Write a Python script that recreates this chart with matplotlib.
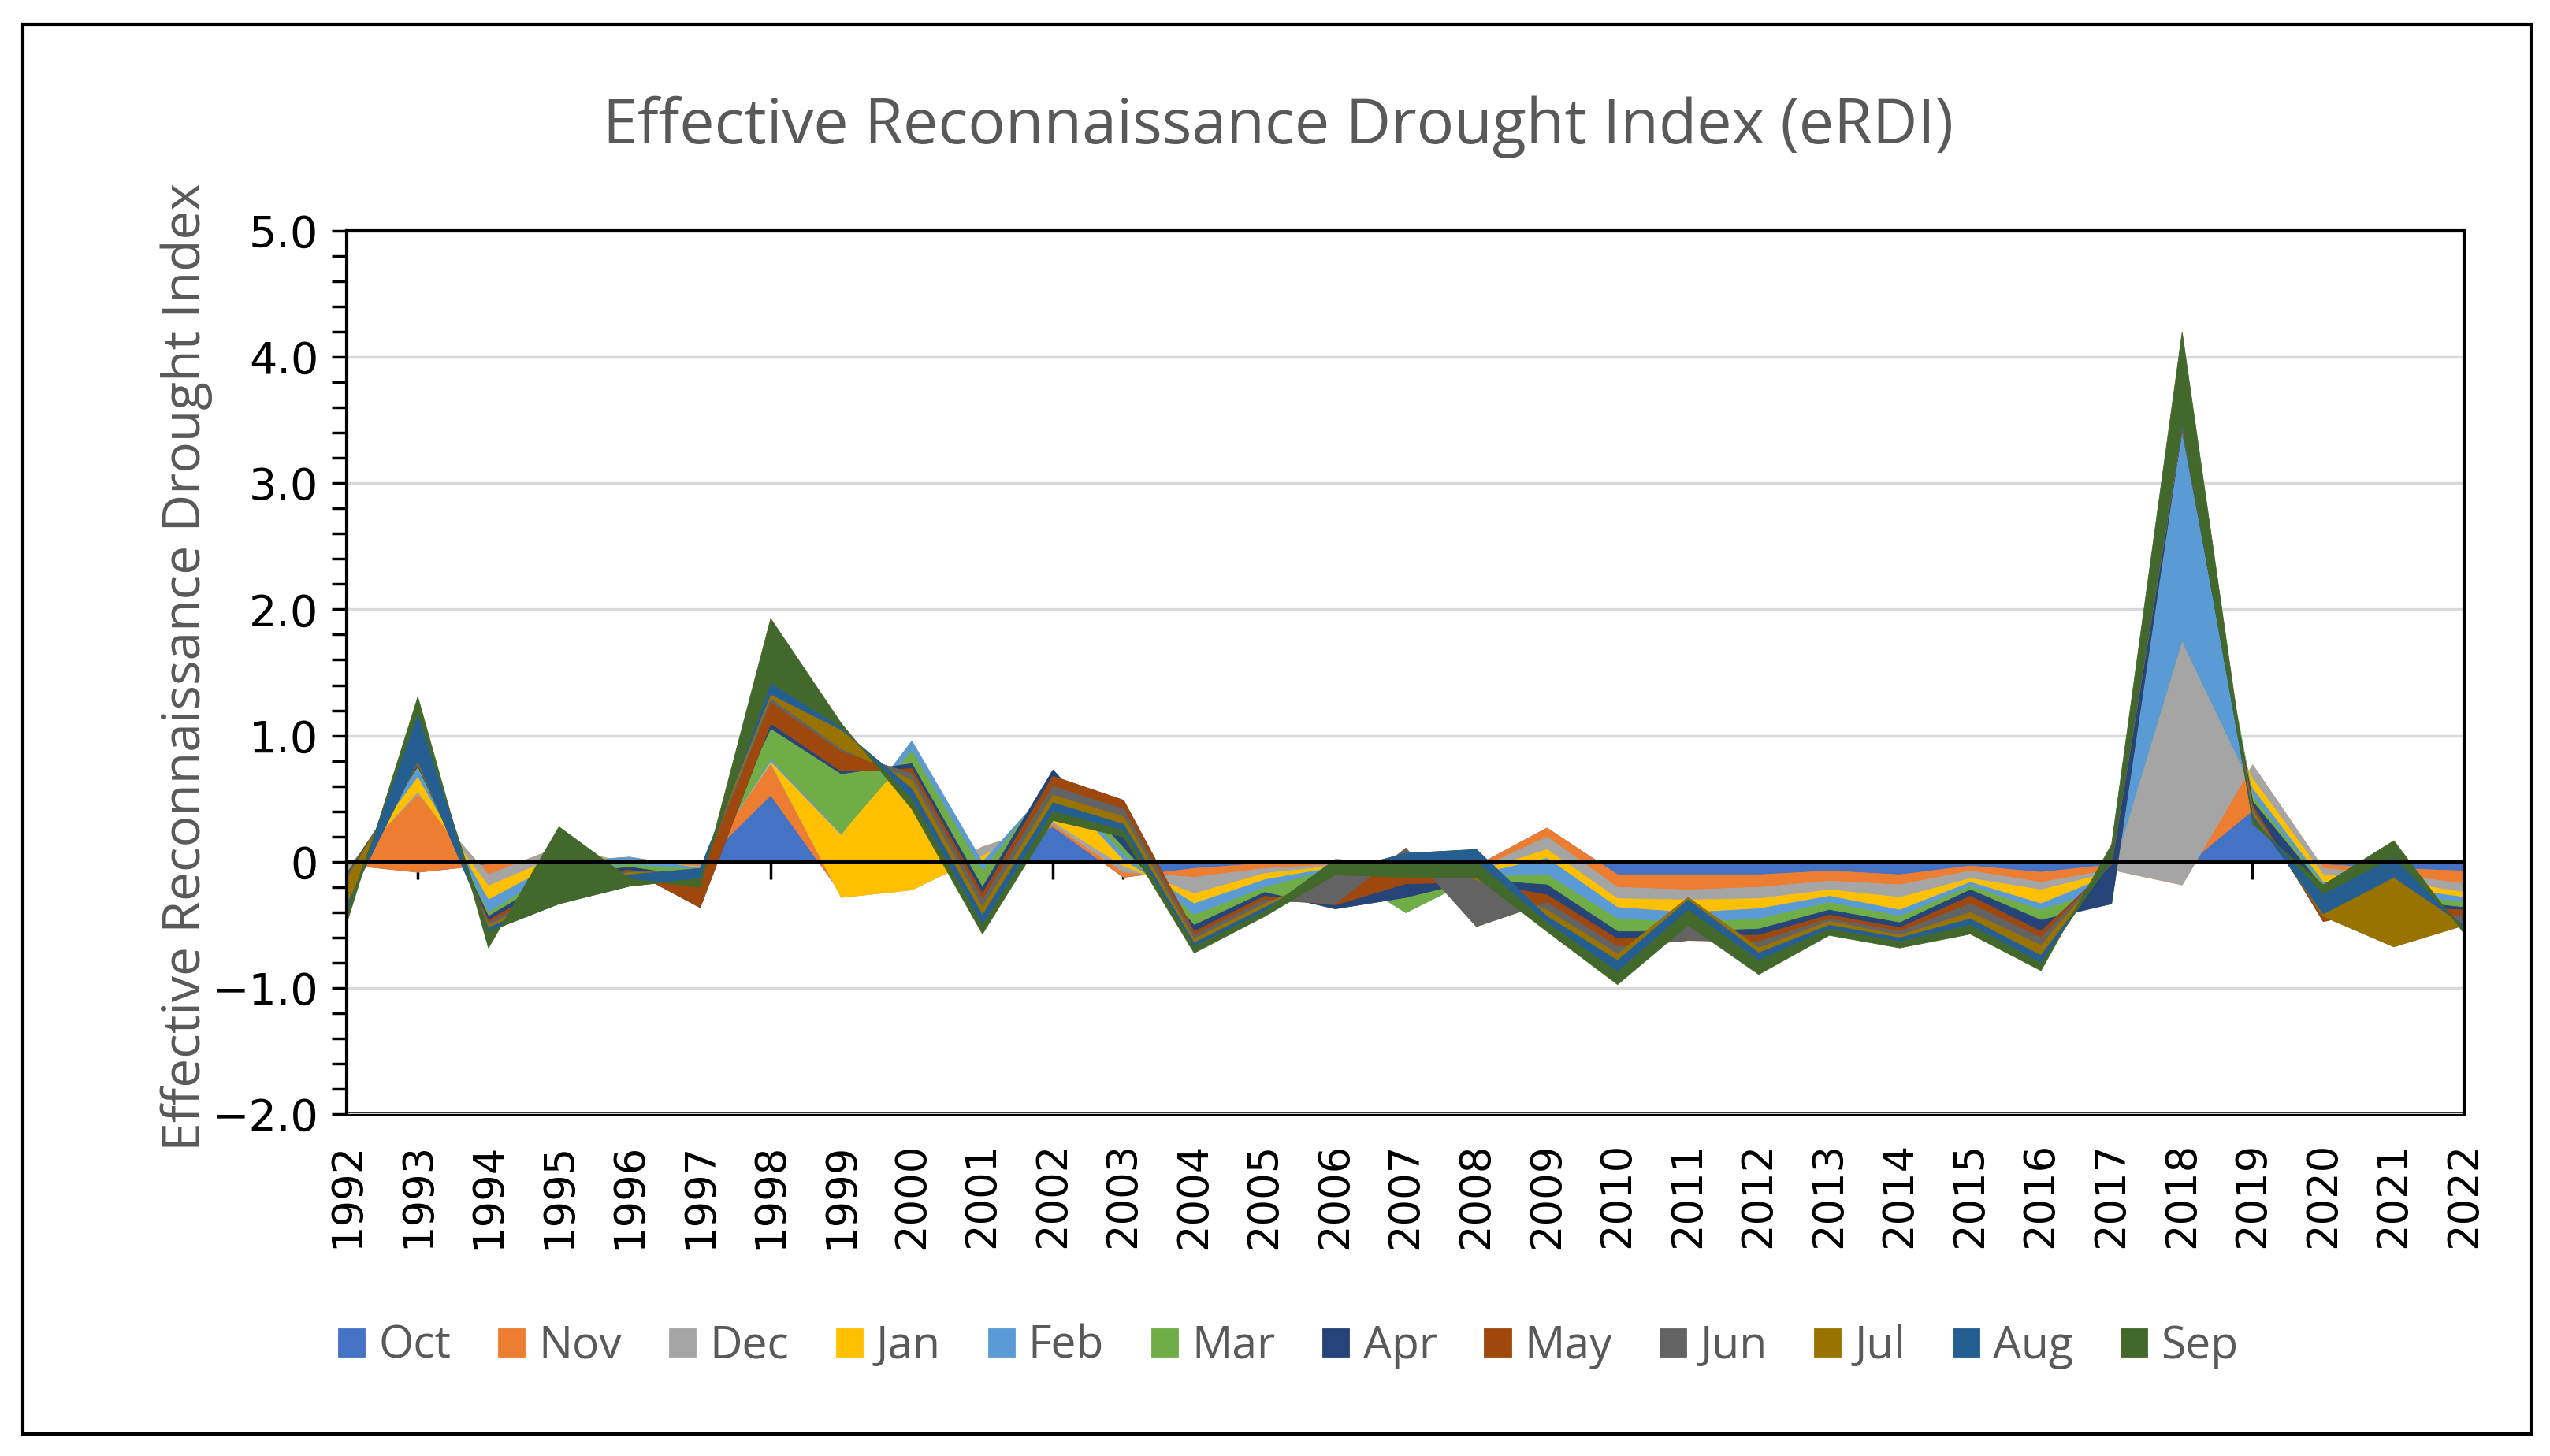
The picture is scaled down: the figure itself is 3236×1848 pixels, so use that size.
import matplotlib.pyplot as plt
from matplotlib.ticker import MultipleLocator, FuncFormatter
from matplotlib.patches import Rectangle

years = list(range(1992, 2023))
months = ["Oct", "Nov", "Dec", "Jan", "Feb", "Mar",
          "Apr", "May", "Jun", "Jul", "Aug", "Sep"]

# eRDI per reference period (stacked in the chart)
oct_ = [-0.02, -0.08, -0.02, 0.03, 0.00, -0.02, 0.53, -0.25, -0.15, 0.05, 0.28, -0.12, -0.05, -0.01, 0.00, -0.05,
        -0.03, 0.27, -0.10, -0.10, -0.10, -0.07, -0.10, -0.03, -0.08, -0.02, -0.05, 0.41, -0.02, -0.05, -0.07]
nov = [-0.02, 0.62, -0.08, 0.09, -0.01, -0.01, 0.25, -0.02, -0.05, 0.07, 0.02, 0.04, -0.07, -0.04, -0.02, -0.05,
       -0.03, -0.07, -0.10, -0.12, -0.10, -0.08, -0.08, -0.04, -0.08, -0.04, -0.13, 0.36, -0.03, -0.05, -0.10]
dec = [-0.02, 0.02, -0.09, -0.07, 0.03, -0.01, 0.01, -0.01, -0.02, -0.07, 0.02, 0.05, -0.13, -0.04, -0.01, -0.05,
       -0.02, -0.10, -0.09, -0.08, -0.09, -0.07, -0.10, -0.06, -0.06, -0.02, 1.93, -0.11, -0.05, -0.05, -0.07]
jan = [-0.01, 0.12, -0.11, -0.05, 0.02, -0.01, 0.01, 0.50, 1.18, -0.05, 0.30, 0.05, -0.08, -0.05, -0.01, -0.10,
       -0.02, -0.07, -0.07, -0.10, -0.08, -0.05, -0.10, -0.03, -0.11, -0.02, 0.00, -0.08, -0.06, -0.05, -0.04]
feb = [-0.01, 0.07, -0.10, -0.05, -0.06, -0.01, 0.02, 0.01, -0.08, -0.07, 0.02, 0.05, -0.09, -0.06, -0.01, -0.15,
       -0.02, -0.13, -0.09, -0.08, -0.08, -0.05, -0.05, -0.03, -0.05, -0.10, 1.70, -0.06, -0.02, -0.05, -0.04]
mar = [-0.01, 0.01, -0.03, -0.05, -0.02, -0.06, 0.24, 0.47, -0.10, -0.13, 0.09, 0.05, -0.08, -0.04, -0.32, 0.12,
       -0.02, -0.08, -0.10, -0.07, -0.08, -0.06, -0.05, -0.03, -0.08, -0.13, -0.01, -0.04, -0.02, -0.05, -0.04]
apr = [-0.01, 0.01, -0.03, -0.05, -0.02, -0.24, 0.04, 0.02, -0.04, -0.05, -0.05, 0.37, -0.05, -0.03, 0.03, 0.11,
       -0.02, -0.08, -0.06, -0.03, -0.05, -0.04, -0.04, -0.05, -0.09, 0.31, -0.02, -0.03, -0.27, -0.05, -0.02]
may = [-0.01, 0.01, -0.02, -0.05, -0.01, 0.26, 0.17, 0.16, -0.04, -0.05, -0.08, -0.07, -0.03, -0.03, 0.01, 0.28,
       -0.35, -0.06, -0.06, -0.04, -0.05, -0.03, -0.03, -0.06, -0.05, 0.01, 0.01, -0.03, 0.04, -0.07, -0.05]
jun = [-0.02, 0.01, -0.02, -0.04, -0.01, 0.02, 0.03, 0.02, -0.05, -0.06, -0.07, -0.06, -0.03, -0.03, 0.23, -0.04,
       0.37, -0.06, -0.06, 0.34, -0.05, -0.02, -0.03, -0.07, -0.06, 0.01, 0.01, -0.02, 0.00, -0.25, -0.07]
jul = [-0.20, 0.01, -0.02, -0.04, -0.02, 0.03, 0.03, 0.15, -0.07, -0.06, -0.06, -0.06, -0.03, -0.03, 0.02, 0.00,
       0.24, -0.05, -0.05, -0.02, -0.04, -0.03, -0.02, -0.05, -0.08, 0.00, 0.01, -0.03, 0.02, 0.55, 0.00]
aug = [-0.05, 0.38, -0.03, -0.05, -0.09, -0.08, 0.09, 0.02, -0.08, -0.08, -0.07, -0.05, -0.03, -0.03, 0.10, -0.07,
       -0.10, -0.05, -0.09, -0.08, -0.06, -0.03, -0.03, -0.05, -0.06, 0.02, 0.02, -0.03, 0.16, 0.16, -0.03]
sep = [-0.09, 0.13, -0.13, 0.61, 0.06, -0.07, 0.51, 0.03, -0.08, -0.07, -0.07, -0.05, -0.05, -0.04, -0.12, -0.12,
       -0.12, -0.07, -0.10, -0.12, -0.11, -0.05, -0.05, -0.07, -0.06, 0.12, 0.73, -0.04, 0.07, 0.13, -0.04]

colors = ["#4472C4", "#ED7D31", "#A5A5A5", "#FFC000", "#5B9BD5", "#70AD47",
          "#264478", "#9E480E", "#636363", "#997300", "#255E91", "#43682B"]

fig = plt.figure(figsize=(32.37, 18.48), dpi=100)
ax = fig.add_axes([0.136, 0.2348, 0.830, 0.6067])

polys = ax.stackplot(years, oct_, nov, dec, jan, feb, mar, apr, may, jun, jul, aug, sep,
                     colors=colors, labels=months)
for p, c in zip(polys, colors):
    p.set_edgecolor(c)
    p.set_linewidth(0.6)

ax.set_xlim(1992, 2022)
ax.set_ylim(-2, 5)
ax.yaxis.set_major_locator(MultipleLocator(1))
ax.yaxis.set_minor_locator(MultipleLocator(0.2))


def fmt(v, pos):
    if abs(v) < 1e-9:
        return "0"
    return f"{v:.1f}".replace("-", "\u2212")


ax.yaxis.set_major_formatter(FuncFormatter(fmt))
ax.grid(axis="y", which="major", color="#d9d9d9", lw=2.5)
ax.set_axisbelow(True)

# ticks hang from the zero line, labels sit under the frame
ax.spines["bottom"].set_position(("data", 0))
ax.spines["bottom"].set_linewidth(3)
for s in ("left", "right", "top"):
    ax.spines[s].set_linewidth(3)
ax.set_xticks(years)
ax.tick_params(axis="x", direction="out", length=16, width=2.5, labelbottom=False)
ax.tick_params(axis="y", which="both", direction="out", length=14, width=2.5,
               labelsize=40, pad=12)

secx = ax.secondary_xaxis("bottom")
secx.set_xticks(years, labels=[str(y) for y in years], rotation=90)
secx.tick_params(length=0, labelsize=38, pad=26)
secx.spines["bottom"].set_linewidth(3)

fig.text(0.501, 0.913, "Effective Reconnaissance Drought Index (eRDI)",
         ha="center", va="center", fontsize=57, color="#595959", family="Open Sans")
fig.text(0.073, 0.542, "Effective Reconnaissance Drought Index", rotation=90,
         ha="center", va="center", fontsize=47.5, color="#595959", family="Open Sans")

fig.legend(loc="center", bbox_to_anchor=(0.505, 0.075), ncol=12, frameon=False,
           prop={"family": "Open Sans", "size": 41}, labelcolor="#595959",
           handlelength=0.6, handleheight=0.6, handletextpad=0.3, columnspacing=1.05)

fig.add_artist(Rectangle((0.009, 0.0152), 0.9833, 0.968, transform=fig.transFigure,
                         fill=False, lw=3, ec="black"))

fig.savefig("out.png", dpi=100)
